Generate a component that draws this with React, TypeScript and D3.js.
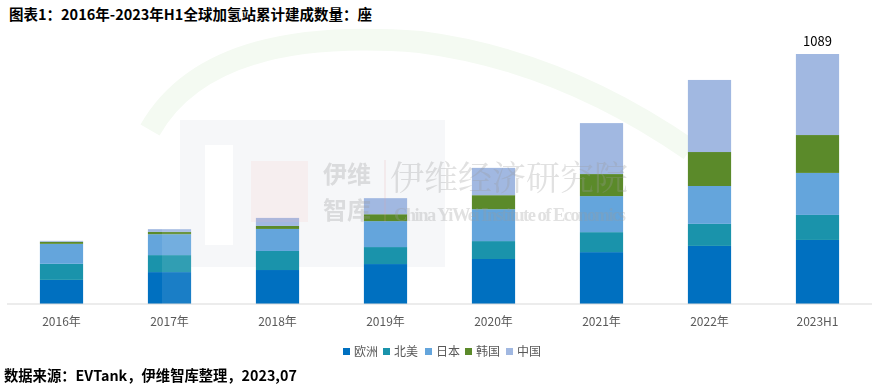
import React from "react";
import * as d3 from "d3";

const categories = ["2016年", "2017年", "2018年", "2019年", "2020年", "2021年", "2022年", "2023H1"];
const seriesNames = ["欧洲", "北美", "日本", "韩国", "中国"];
const europe = [105, 139, 148, 174, 196, 226, 253, 279];
const northAmerica = [70, 74, 83, 74, 78, 87, 96, 109];
const japan = [87, 91, 96, 113, 139, 157, 165, 183];
const korea = [9, 10, 13, 30, 61, 96, 148, 165];
const china = [4, 12, 35, 70, 119, 222, 314, 353];
const totalLabel = "1089";
const colors = ["#0070C0", "#1A93AB", "#64A5DC", "#5B8A2A", "#A1B8E1"];

const W = 884;
const H = 387;

export default function App() {
  const seriesValues = [europe, northAmerica, japan, korea, china];
  const rows = categories.map((c, i) => {
    const r: any = { cat: c };
    seriesNames.forEach((s, k) => (r[s] = seriesValues[k][i]));
    return r;
  });
  const stacked = d3.stack().keys(seriesNames)(rows);
  const x = d3.scaleBand().domain(categories).range([7.5, 871.5]).paddingInner(0.6).paddingOuter(0.3);
  const y = d3.scaleLinear().domain([0, 1089]).range([304, 54]);
  const lastTotal = d3.sum(seriesValues, (s) => s[s.length - 1]);
  const font = "'Microsoft YaHei', 'Noto Sans CJK SC', 'Noto Sans', sans-serif";
  const legendX = [343, 383, 425, 465, 506];

  return (
    <svg width={W} height={H} style={{ position: "absolute", left: 0, top: 0, background: "#fff" }}>
      {/* faint green arc watermark */}
      <path d="M 150 130 Q 210 25 420 42 Q 560 60 690 150" fill="none" stroke="#f4faf2" strokeWidth={22} />
      {/* faint EV block */}
      <rect x={180} y={120} width={265} height={147} fill="#f6f7f9" />
      <rect x={205} y={145} width={28} height={100} fill="#fff" />
      <text x={9} y={20} fontFamily={font} fontWeight="bold" fontSize={14.5} fill="#000">
        图表1：2016年-2023年H1全球加氢站累计建成数量：座
      </text>
      {stacked.map((layer, k) => (
        <g key={layer.key}>
          {layer.map((d, i) => (
            <rect
              key={i}
              x={x(categories[i])}
              y={y(d[1])}
              width={x.bandwidth()}
              height={Math.max(0, y(d[0]) - y(d[1]))}
              fill={colors[k]}
            />
          ))}
        </g>
      ))}
      {/* watermark overlay */}
      <g opacity={0.3}>
        <rect x={162} y={228} width={30} height={76} fill="#fff" opacity={0.35} />
        <rect x={251} y={161} width={57} height={61} fill="#f6b3b8" opacity={0.45} />
        <text x={323} y={183} fontFamily="'Noto Sans CJK SC', sans-serif" fontWeight="bold" fontSize={24} fill="#9a9a9a">伊维</text>
        <text x={323} y={219} fontFamily="'Noto Sans CJK SC', sans-serif" fontWeight="bold" fontSize={24} fill="#9a9a9a">智库</text>
        <line x1={385} y1={160} x2={385} y2={222} stroke="#e8a0a6" strokeWidth={1} />
        <text x={390} y={190} fontFamily="'Noto Serif CJK SC', 'Noto Sans CJK SC', serif" fontSize={34} fill="#9a9a9a">伊维经济研究院</text>
        <text x={394} y={221} fontFamily="'Liberation Serif', serif" fontWeight="bold" fontSize={18.5} fill="#9a9a9a" textLength={232}>China YiWei Institute of Economics</text>
      </g>
      <line x1={7} x2={872} y1={304} y2={304} stroke="#D9D9D9" strokeWidth={1} />
      {categories.map((c) => (
        <text key={c} x={(x(c) as number) + x.bandwidth() / 2} y={326} textAnchor="middle" fontFamily={font} fontSize={12} fill="#595959">
          {c}
        </text>
      ))}
      <text
        x={(x(categories[categories.length - 1]) as number) + x.bandwidth() / 2}
        y={y(lastTotal) - 8}
        textAnchor="middle"
        fontFamily={font}
        fontSize={13}
        fill="#000"
      >
        {totalLabel}
      </text>
      {seriesNames.map((s, k) => (
        <g key={s}>
          <rect x={legendX[k]} y={348} width={7} height={7} fill={colors[k]} />
          <text x={legendX[k] + 11} y={356} fontFamily={font} fontSize={12} fill="#595959">
            {s}
          </text>
        </g>
      ))}
      <text x={4} y={381} fontFamily={font} fontWeight="bold" fontSize={14.3} fill="#000">
        数据来源：EVTank，伊维智库整理，2023,07
      </text>
    </svg>
  );
}
